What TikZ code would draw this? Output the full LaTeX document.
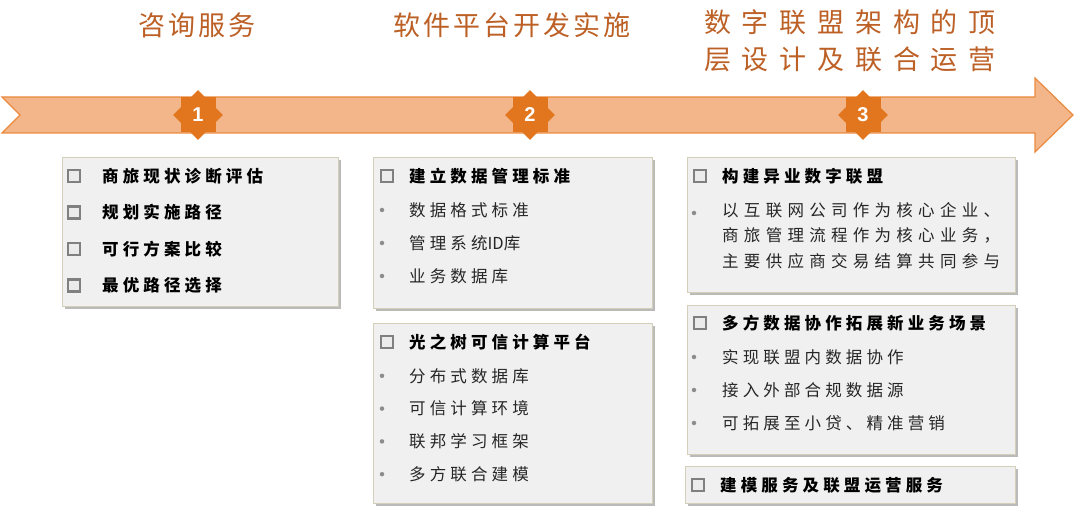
\documentclass[tikz,border=0pt]{standalone}
\usepackage{fontspec}
\usepackage{tikz}
\usetikzlibrary{shapes.geometric,shadows}
\setmainfont{Liberation Sans}
\newfontfamily\cjkplain{Noto Sans CJK SC}
\newfontfamily\cjkitem[LetterSpace=25]{Noto Sans CJK SC}
\newfontfamily\cjkwide[LetterSpace=32]{Noto Sans CJK SC}
\newfontfamily\cjktitle[LetterSpace=11]{Noto Sans CJK SC}
\newfontfamily\cjktitlewide[LetterSpace=40]{Noto Sans CJK SC}
\definecolor{bandfill}{HTML}{F2B68A}
\definecolor{bandline}{HTML}{EA8A3E}
\definecolor{badgefill}{HTML}{E2761F}
\definecolor{titletext}{HTML}{BC6026}
\definecolor{panelfill}{HTML}{F0F0F0}
\definecolor{panelline}{HTML}{D3CFB8}
\tikzset{
  title/.style={text=titletext, font=\cjktitle\fontsize{27}{30}\selectfont, inner sep=0},
  badgebg/.style={diamond, fill=badgefill, minimum width=50, minimum height=50, inner sep=0},
  badge/.style={rectangle, fill=badgefill, minimum size=35, inner sep=0, text=white, font=\bfseries\fontsize{20}{20}\selectfont},
  panel/.style={rectangle, draw=panelline, line width=0.8, fill=panelfill, anchor=north west, inner sep=0,
    drop shadow={shadow xshift=2.5pt, shadow yshift=-2.5pt, fill=black!45, opacity=0.6}},
  tick/.style={rectangle, draw=black!50, line width=2.3, fill=white!92!black, minimum size=12, inner sep=0},
  dot/.style={circle, fill=black!45, minimum size=4.5, inner sep=0},
  head/.style={anchor=west, inner sep=0, font=\cjkitem\bfseries\fontsize{16.5}{20}\selectfont},
  item/.style={anchor=west, inner sep=0, text=black!85, font=\cjkitem\fontsize{16.5}{20}\selectfont}
}
\begin{document}
\begin{tikzpicture}[x=1pt, y=-1pt]
  \useasboundingbox (0,0) rectangle (1080,521);

  % titles
  \node (t-consult) [title] at (197,25) {咨询服务};
  \node (t-platform) [title] at (512,25) {软件平台开发实施};
  \node (t-union) [title, font=\cjktitlewide\fontsize{27}{37}\selectfont, anchor=north west, align=left] at (704,9)
    {数字联盟架构的顶\\层设计及联合运营};

  % timeline arrow
  \draw[fill=bandfill, draw=bandline, line width=1.2, line join=miter]
    (2,97) -- (1035,97) -- (1035,78) -- (1073,115) -- (1035,152) -- (1035,133)
    -- (2,133) -- (20,115) -- cycle;

  % badges
  \foreach \x/\n in {198/1, 530/2, 863/3} {
    \node (b\n-bg) [badgebg] at (\x,115) {};
    \node (b\n) [badge] at (\x,115) {\n};
  }

  % panels
  \node (p-consult) [panel, minimum width=276, minimum height=149] at (62,157) {};
  \node (p-standard) [panel, minimum width=279, minimum height=151] at (373,157) {};
  \node (p-trust) [panel, minimum width=279, minimum height=180] at (373,323) {};
  \node (p-union) [panel, minimum width=328, minimum height=135] at (687,157) {};
  \node (p-scene) [panel, minimum width=328, minimum height=149] at (687,305) {};
  \node (p-service) [panel, minimum width=330, minimum height=37] at (685,466) {};

  % stage 1
  \foreach \txt [count=\i] in {商旅现状诊断评估,规划实施路径,可行方案比较,最优路径选择} {
    \node (c1-\i) [tick] at (74,139.5+36.5*\i) {};
    \node (h1-\i) [head] at (102,139.5+36.5*\i) {\txt};
  }

  % stage 2
  \node (c2-a) [tick] at (387,176) {};
  \node (h2-a) [head] at (409,176) {建立数据管理标准};
  \foreach \txt [count=\i] in {数据格式标准,管理系统{\cjkplain ID}库,业务数据库} {
    \node (d2a-\i) [dot] at (382,177+33*\i) {};
    \node (i2a-\i) [item] at (409,177+33*\i) {\txt};
  }
  \node (c2-b) [tick] at (387,342) {};
  \node (h2-b) [head] at (409,342) {光之树可信计算平台};
  \foreach \txt [count=\i] in {分布式数据库,可信计算环境,联邦学习框架,多方联合建模} {
    \node (d2b-\i) [dot] at (382,343+32.8*\i) {};
    \node (i2b-\i) [item] at (409,343+32.8*\i) {\txt};
  }

  % stage 3
  \node (c3-a) [tick] at (700,176) {};
  \node (h3-a) [head] at (722,176) {构建异业数字联盟};
  \node (d3a-1) [dot] at (694,213) {};
  \node (i3a-1) [item, anchor=north west, align=left, font=\cjkwide\fontsize{16.5}{25.5}\selectfont] at (722,202)
    {以互联网公司作为核心企业、\\商旅管理流程作为核心业务，\\主要供应商交易结算共同参与};
  \node (c3-b) [tick] at (700,323) {};
  \node (h3-b) [head] at (722,323) {多方数据协作拓展新业务场景};
  \foreach \txt [count=\i] in {实现联盟内数据协作,接入外部合规数据源,可拓展至小贷、精准营销} {
    \node (d3b-\i) [dot] at (694,324+33*\i) {};
    \node (i3b-\i) [item] at (722,324+33*\i) {\txt};
  }
  \node (c3-c) [tick] at (698,485) {};
  \node (h3-c) [head] at (720,485) {建模服务及联盟运营服务};
\end{tikzpicture}
\end{document}
